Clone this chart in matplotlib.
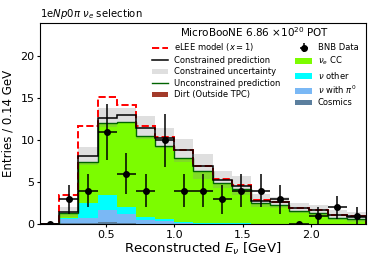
import numpy as np
import matplotlib
matplotlib.use("Agg")
import matplotlib.pyplot as plt


# bin edges in GeV (0.14 GeV bins)
BIN_EDGES = [0.02, 0.16, 0.30, 0.44, 0.58, 0.72, 0.86, 1.00, 1.14, 1.28,
             1.42, 1.56, 1.70, 1.84, 1.98, 2.12, 2.26, 2.40]

# stacked MC components (unconstrained)
COSMICS = [0, 0.10, 0.15, 0.30, 0.10, 0.05, 0.05, 0.03, 0, 0, 0, 0, 0, 0, 0, 0, 0]
NU_PI0 = [0, 0.50, 0.60, 1.40, 1.10, 0.45, 0.30, 0.10, 0.08, 0.05, 0.05, 0.03, 0.03, 0.02, 0.02, 0.01, 0.01]
NU_OTHER = [0, 0.10, 1.80, 1.80, 0.80, 0.40, 0.30, 0.10, 0.07, 0.05, 0.05, 0.03, 0.03, 0.02, 0.02, 0.01, 0.01]
NUE_CC = [0, 0.70, 4.85, 8.60, 10.20, 9.60, 8.65, 7.67, 6.15, 4.80, 4.10, 2.44, 2.24, 1.56, 1.36, 0.78, 0.58]
DIRT = [0] * 17

# constrained prediction and its uncertainty
CONSTRAINED = [0, 1.5, 8.1, 12.7, 13.0, 11.5, 10.3, 8.8, 6.9, 5.3, 4.6, 2.8, 2.6, 1.9, 1.7, 1.1, 0.9]
CONSTRAINED_ERR = [0, 0.6, 1.1, 1.1, 0.9, 1.4, 1.2, 1.4, 1.5, 1.0, 1.1, 0.8, 0.7, 0.6, 0.6, 0.6, 0.6]

# eLEE model (x = 1)
ELEE = [0, 3.5, 11.7, 15.2, 14.2, 11.7, 10.35, 8.85, 6.95, 5.35, 4.65, 2.85, 2.65, 1.95, 1.75, 1.15, 0.95]

# BNB data
DATA = [0, 3, 4, 11, 6, 4, 10, 4, 4, 3, 4, 4, 3, 0, 1, 2, 1]


def main():
    edges = np.array(BIN_EDGES)
    centers = 0.5 * (edges[1:] + edges[:-1])
    half_width = 0.5 * np.diff(edges)

    fig = plt.figure(figsize=(3.74, 2.67), dpi=100)
    ax = fig.add_axes([0.107, 0.16, 0.872, 0.755])

    # stacked MC
    stack = [
        (DIRT, "#a33a2a", "Dirt (Outside TPC)"),
        (COSMICS, "#5b7f9e", "Cosmics"),
        (NU_PI0, "#7ab8f5", r"$\nu$ with $\pi^0$"),
        (NU_OTHER, "#00ffff", r"$\nu$ other"),
        (NUE_CC, "#7cfc00", r"$\nu_e$ CC"),
    ]
    handles = {}
    bottom = np.zeros(len(DATA))
    for vals, color, label in stack:
        top = bottom + np.array(vals)
        handles[label] = ax.stairs(top, edges, baseline=bottom, fill=True,
                                   color=color, label=label, lw=0)
        bottom = top
    unconstrained = bottom

    cons = np.array(CONSTRAINED)
    err = np.array(CONSTRAINED_ERR)
    handles["unc"] = ax.stairs(cons + err, edges, baseline=cons - err, fill=True,
                               color="0.55", alpha=0.28, lw=0,
                               label="Constrained uncertainty")
    handles["uncons"] = ax.stairs(unconstrained, edges, color="darkgreen", lw=1.0,
                                  label="Unconstrained prediction")
    handles["elee"] = ax.stairs(ELEE, edges, color="red", ls="--", lw=1.4,
                                label=r"eLEE model ($x = 1$)")
    handles["cons"] = ax.stairs(cons, edges, color="black", lw=1.1,
                                label="Constrained prediction")

    data = np.array(DATA, dtype=float)
    yerr = np.sqrt(data)
    handles["data"] = ax.errorbar(centers, data, xerr=half_width, yerr=yerr,
                                  fmt="o", color="black", ms=4, elinewidth=1.1,
                                  capsize=0, label="BNB Data")

    ax.set_xlim(0.02, 2.40)
    ax.set_ylim(0, 24)
    ax.set_xticks([0.5, 1.0, 1.5, 2.0])
    ax.set_yticks([0, 5, 10, 15, 20])
    ax.tick_params(labelsize=8, length=2.5, pad=1.5)

    ax.set_xlabel(r"Reconstructed $E_\nu$ [GeV]", fontsize=9.5, labelpad=1)
    ax.set_ylabel("Entries / 0.14 GeV", fontsize=8.5, labelpad=4)
    ax.set_title(r"1e$Np0\pi$ $\nu_e$ selection", loc="left", fontsize=7.3, pad=4)

    order = [
        handles["elee"], handles["cons"], handles["unc"], handles["uncons"],
        handles["Dirt (Outside TPC)"],
        handles["data"], handles[r"$\nu_e$ CC"], handles[r"$\nu$ other"],
        handles[r"$\nu$ with $\pi^0$"], handles["Cosmics"],
    ]
    ax.legend(handles=order, labels=[h.get_label() for h in order],
              ncol=2, loc="upper right", frameon=False, fontsize=6,
              title=r"MicroBooNE 6.86 $\times 10^{20}$ POT",
              title_fontsize=7.5, columnspacing=1.8, labelspacing=0.3,
              handletextpad=0.7, bbox_to_anchor=(1.0, 1.025))

    fig.savefig("out.png", dpi=100)


if __name__ == "__main__":
    main()
